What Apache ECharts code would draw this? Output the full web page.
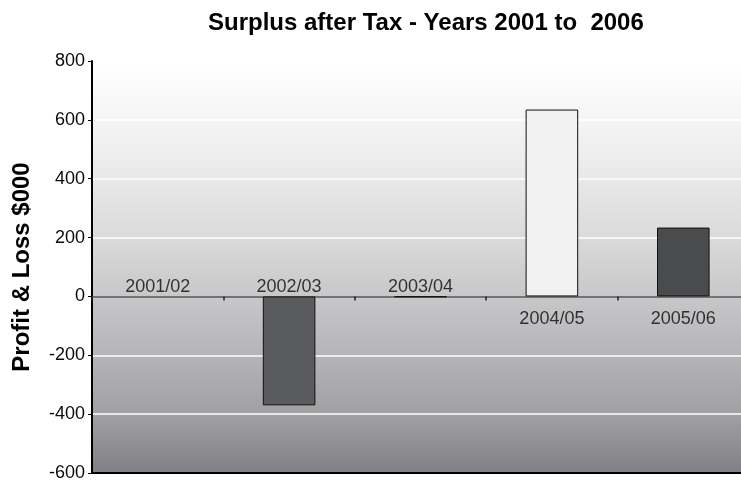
<!DOCTYPE html>
<html>
<head>
<meta charset="utf-8">
<style>
  html, body { margin: 0; padding: 0; background: #ffffff; overflow: hidden; }
  #chart { width: 749px; height: 482px; }
</style>
<script src="https://cdn.jsdelivr.net/npm/echarts@6/dist/echarts.min.js"></script>
</head>
<body>
<div id="chart"></div>
<script>
// Surplus after tax by financial year ($000)
const years = ['2001/02', '2002/03', '2003/04', '2004/05', '2005/06'];
const surplus = [0, -370, -2, 635, 234];
const barColors = ['#5a5b5d', '#5a5b5d', '#111111', '#f2f2f2', '#4a4b4d'];
const yTicks = { min: -600, max: 800, step: 200 };

const FONT = '"Liberation Sans", Arial, Helvetica, sans-serif';

const chart = echarts.init(document.getElementById('chart'), null, { renderer: 'canvas' });

chart.setOption({
  animation: false,
  backgroundColor: '#ffffff',
  title: {
    text: 'Surplus after Tax - Years 2001 to  2006',
    left: 203,
    top: 6,
    textStyle: { fontFamily: FONT, fontSize: 24, fontWeight: 'bold', color: '#000' }
  },
  grid: {
    left: 92,
    top: 61,
    right: 0,
    bottom: 5,
    show: true,
    borderWidth: 0,
    backgroundColor: new echarts.graphic.LinearGradient(0, 0, 0, 1, [
      { offset: 0, color: '#ffffff' },
      { offset: 0.14, color: '#f5f5f5' },
      { offset: 0.29, color: '#e8e8e9' },
      { offset: 0.43, color: '#dadadb' },
      { offset: 0.57, color: '#c8c8ca' },
      { offset: 0.71, color: '#b5b5b7' },
      { offset: 0.86, color: '#a0a0a3' },
      { offset: 1, color: '#7f8084' }
    ])
  },
  xAxis: [
    {
      type: 'category',
      data: years,
      axisLine: { onZero: true, lineStyle: { color: '#4a4a4a', width: 1.5 } },
      axisTick: { show: true, length: 4, lineStyle: { color: '#222', width: 1.5 } },
      axisLabel: { show: false },
      splitLine: { show: false }
    },
    {
      type: 'category',
      data: years,
      position: 'bottom',
      axisLine: { onZero: false, lineStyle: { color: '#000', width: 2 } },
      axisTick: { show: false },
      axisLabel: { show: false }
    }
  ],
  yAxis: {
    type: 'value',
    min: yTicks.min,
    max: yTicks.max,
    interval: yTicks.step,
    name: 'Profit & Loss $000',
    nameLocation: 'middle',
    nameRotate: 90,
    nameGap: 58,
    nameTextStyle: { fontFamily: FONT, fontSize: 24, fontWeight: 'bold', color: '#000' },
    axisLine: { show: true, lineStyle: { color: '#000', width: 2 } },
    axisTick: { show: true, length: 4, lineStyle: { color: '#000', width: 1 } },
    axisLabel: { fontFamily: FONT, fontSize: 18, color: '#0a0a0a', margin: 7, padding: [0, 0, 3, 0] },
    splitLine: { show: true, lineStyle: { color: '#ffffff', width: 1.5 } }
  },
  series: [
    {
      type: 'bar',
      xAxisIndex: 0,
      barWidth: '40%',
      data: surplus.map((v, i) => ({
        value: v,
        itemStyle: {
          color: barColors[i],
          borderColor: '#111111',
          borderWidth: v === 0 ? 0 : 1
        }
      })),
      z: 3
    },
    {
      // category names sit on the opposite side of the zero line from each bar
      type: 'scatter',
      xAxisIndex: 0,
      symbolSize: 0,
      silent: true,
      data: surplus.map((v, i) => ({
        value: 0,
        label: {
          show: true,
          position: v > 0 ? 'bottom' : 'top',
          distance: v > 0 ? 14 : 0,
          formatter: years[i]
        }
      })),
      label: { fontFamily: FONT, fontSize: 18, color: '#0a0a0a' },
      z: 4
    }
  ]
});
</script>
</body>
</html>
